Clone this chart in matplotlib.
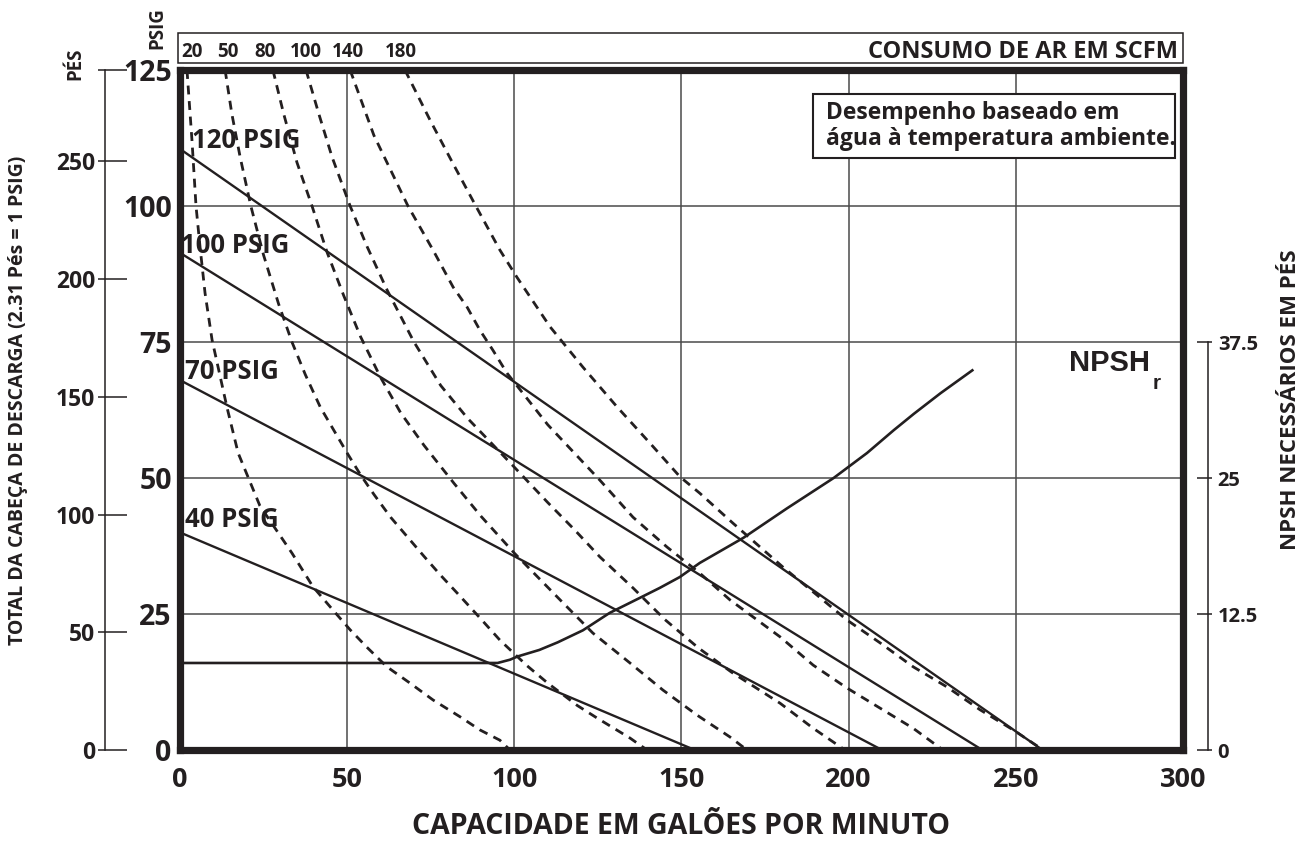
import matplotlib.pyplot as plt
from matplotlib.patches import Rectangle
from matplotlib.ticker import FixedLocator
import matplotlib.transforms as mtransforms

plt.rcParams['font.family'] = ['Open Sans', 'DejaVu Sans']
plt.rcParams['font.weight'] = 'bold'
INK = '#231f20'
FEET_PER_PSI = 2.31

# axes ticks
flow_ticks = [0, 50, 100, 150, 200, 250, 300]
psi_ticks = [0, 25, 50, 75, 100, 125]
feet_ticks = [0, 50, 100, 150, 200, 250]
npsh_ticks = [0, 12.5, 25, 37.5]
npsh_labels = ['0', '12.5', '25', '37.5']

# air inlet pressure lines: head at zero flow (psi) and flow at zero head (gpm)
psig_labels = ['120 PSIG', '100 PSIG', '70 PSIG', '40 PSIG']
psig_head = [110.5, 91.4, 68.0, 40.0]
psig_flow = [258, 240, 210, 154]

# air consumption curves (SCFM), flow gpm vs head psi
scfm_labels = ['20', '50', '80', '100', '140', '180']
scfm20_x = [2.1, 3.6, 4.8, 6.0, 7.5, 9.6, 14.1, 17.4, 23.9, 33.5, 39.8, 45.8, 50.9,
            55.9, 61.9, 68.8, 75.7, 83.8, 89.7, 95.7, 98.7]
scfm20_y = [125, 112, 100, 92.5, 84, 75.4, 62.9, 54.6, 44.9, 36.2, 30.0, 25.7, 22.1,
            18.9, 15.3, 12.3, 9.2, 6.1, 3.7, 1.8, 0]
scfm50_x = [13.5, 15.5, 18, 21.2, 25, 29.5, 33.5, 37.5, 42, 46, 50, 54, 58, 63, 68, 73,
            78, 83, 89.7, 95.7, 103.8, 110, 118.8, 124.7, 134.6, 139.7]
scfm50_y = [125, 117, 109, 100, 91, 82, 75, 69, 63, 58.8, 54.6, 50.6, 47, 42.8, 39.2,
            35.6, 32.1, 28.8, 24.3, 20.2, 15.5, 12.3, 8.2, 5.9, 2.2, 0]
scfm80_x = [27.8, 31, 35, 39.5, 44, 49, 54, 60, 66, 73, 82, 90, 100, 113.7, 123.5,
            134.6, 144.5, 154.7, 164.5, 169.6]
scfm80_y = [125, 117, 108, 100, 91.5, 83.5, 76, 68.5, 62, 56, 49, 43, 36.2, 27.6, 21.5,
            16.0, 11.0, 6.4, 2.4, 0]
scfm100_x = [37.7, 41.5, 45.5, 50.9, 56, 62, 70, 78, 86, 93, 100, 110, 118, 125.6,
             135.5, 145, 155, 165, 179.5, 189.4, 198.9]
scfm100_y = [125, 117, 109, 100, 92.5, 84.5, 75, 67, 61, 56.5, 52, 45.5, 40.5, 35.5,
             29.8, 24, 18.8, 14.3, 8.6, 4.0, 0]
scfm140_x = [50.9, 58, 68.2, 75.7, 81.7, 85.9, 89.7, 93.6, 97.8, 110, 125.6, 135.5,
             145.7, 155.5, 164.5, 179.5, 189.4, 199.5, 209.4, 219.3, 228.2]
scfm140_y = [125, 113, 100, 91.9, 85.1, 81.4, 77.2, 73.5, 69.3, 59.8, 49.6, 42.8,
             37.3, 32.5, 27.6, 20.8, 15.6, 11.4, 7.7, 4.0, 0]
scfm180_x = [67.3, 74.8, 81.5, 88.5, 95.7, 100.8, 110.7, 120.5, 130.7, 140.6, 149.6,
             155.5, 165.4, 180.4, 190.5, 199.5, 209.4, 219.3, 229.4, 239.3, 249.2, 258.2]
scfm180_y = [125, 115.8, 108, 100, 91.9, 86.9, 77.8, 70.4, 63.1, 56.4, 50.2, 47.2,
             41.7, 33.6, 28.5, 23.9, 19.7, 15.3, 11.6, 7.4, 3.7, 0]
scfm_x = [scfm20_x, scfm50_x, scfm80_x, scfm100_x, scfm140_x, scfm180_x]
scfm_y = [scfm20_y, scfm50_y, scfm80_y, scfm100_y, scfm140_y, scfm180_y]

# NPSH required (feet) vs flow (gpm)
npsh_x = [0, 95, 98.7, 101, 107.5, 113, 120.5, 128.5, 137, 143.5, 149.5, 155.5, 168.5,
          181.5, 195.5, 205.5, 213.5, 219.5, 227.5, 237]
npsh_y = [8, 8, 8.3, 8.6, 9.2, 9.9, 11.0, 12.6, 13.9, 14.9, 15.9, 17.2, 19.5, 22.2,
          25.0, 27.3, 29.4, 30.9, 32.8, 34.9]

# layout
psig_label_pos = [(3.6, 112.1), (0.3, 92.8), (1.5, 69.5), (1.5, 42.3)]
scfm_label_x = [3.6, 14.4, 25.4, 37.7, 50.3, 66.1]

fig = plt.figure(figsize=(13.06, 8.43), dpi=100)
ax = fig.add_axes([0.1378, 0.1103, 0.7680, 0.8066])
ax.set_xlim(0, 300)
ax.set_ylim(0, 125)
ax.set_xticks(flow_ticks)
ax.set_yticks(psi_ticks)
ax.grid(True, color='#4a4a4a', lw=1.1)
ax.tick_params(length=0, colors=INK)
ax.tick_params(axis='x', labelsize=19.5, pad=12)
ax.tick_params(axis='y', labelsize=20.5, pad=6)
for s in ax.spines.values():
    s.set_linewidth(5.2)
    s.set_color(INK)
    s.set_capstyle('projecting')

for head, flow in zip(psig_head, psig_flow):
    ax.plot([0, flow], [head, 0], color=INK, lw=1.7)
for lab, (lx, ly) in zip(psig_labels, psig_label_pos):
    ax.text(lx, ly, lab, fontsize=18.5, color=INK, ha='left', va='center')

for cx, cy in zip(scfm_x, scfm_y):
    ax.plot(cx, cy, color=INK, lw=2.0, ls=(0, (3.2, 2.4)))

# top SCFM strip
ax.add_patch(Rectangle((-0.002, 1.0103), 1.002, 0.0441, transform=ax.transAxes,
                       fill=False, ec=INK, lw=1.1, clip_on=False))
strip = mtransforms.blended_transform_factory(ax.transData, ax.transAxes)
for lab, lx in zip(scfm_labels, scfm_label_x):
    ax.text(lx, 1.026, lab, transform=strip, fontsize=13.5, color=INK,
            ha='center', va='center')
ax.text(0.995, 1.027, 'CONSUMO DE AR EM SCFM', transform=ax.transAxes, fontsize=17,
        color=INK, ha='right', va='center')

# note box
ax.add_patch(Rectangle((189.4, 108.8), 108.3, 11.8, fc='white', ec=INK, lw=1.5, zorder=4))
ax.text(193.2, 114.7, 'Desempenho baseado em\nágua à temperatura ambiente.',
        fontsize=16.5, color=INK, ha='left', va='center', linespacing=1.15, zorder=5)

# NPSH axis
axn = ax.twinx()
axn.set_ylim(0, 62.5)
axn.plot(npsh_x, npsh_y, color=INK, lw=1.9)
axn.set_yticks(npsh_ticks)
axn.set_yticklabels(npsh_labels)
for k in ['top', 'bottom', 'left']:
    axn.spines[k].set_visible(False)
axn.spines['right'].set_position(('outward', 18))
axn.spines['right'].set_bounds(0, 37.5)
axn.spines['right'].set_linewidth(1.1)
axn.spines['right'].set_color(INK)
axn.yaxis.set_minor_locator(FixedLocator(npsh_ticks))
axn.yaxis.remove_overlapping_locs = False
axn.tick_params(axis='y', which='major', direction='in', length=8, width=1.1, pad=7,
                labelsize=14.5, colors=INK)
axn.tick_params(axis='y', which='minor', direction='out', length=3, width=1.1, colors=INK)
t = axn.text(266, 35.6, 'NPSH', family=['Liberation Sans Narrow', 'Liberation Sans'],
             fontsize=21, color=INK, ha='left', va='center')
axn.annotate('r', xy=(1, 0), xycoords=t, xytext=(1.5, 2), textcoords='offset points',
             family=['Liberation Sans Narrow', 'Liberation Sans'], fontsize=15,
             color=INK, ha='left', va='top')

# feet axis
axf = ax.twinx()
axf.set_ylim(0, 125 * FEET_PER_PSI)
axf.yaxis.tick_left()
axf.set_yticks(feet_ticks + [125 * FEET_PER_PSI])
axf.set_yticklabels([str(v) for v in feet_ticks] + [''])
for k in ['top', 'bottom', 'right']:
    axf.spines[k].set_visible(False)
axf.spines['left'].set_visible(True)
axf.spines['left'].set_position(('outward', 54))
axf.spines['left'].set_linewidth(1.1)
axf.spines['left'].set_color(INK)
axf.yaxis.set_minor_locator(FixedLocator(feet_ticks + [125 * FEET_PER_PSI]))
axf.yaxis.remove_overlapping_locs = False
axf.tick_params(axis='y', which='major', direction='in', length=16, width=1.1, pad=7,
                labelsize=16.5, colors=INK)
axf.tick_params(axis='y', which='minor', direction='out', length=5, width=1.1, colors=INK)

fig.text(681 / 1306, 1 - 827 / 843, 'CAPACIDADE EM GALÕES POR MINUTO', fontsize=20.5,
         color=INK, ha='center', va='center')
fig.text(18 / 1306, 1 - 400 / 843, 'TOTAL DA CABEÇA DE DESCARGA (2.31 Pés = 1 PSIG)',
         fontsize=14, color=INK, rotation=90, ha='center', va='center')
fig.text(1291 / 1306, 1 - 400 / 843, 'NPSH NECESSÁRIOS EM PÉS', fontsize=16,
         color=INK, rotation=90, ha='center', va='center')
fig.text(157 / 1306, 1 - 28 / 843, 'PSIG', fontsize=13.5, color=INK, rotation=90,
         ha='center', va='center')
fig.text(75 / 1306, 1 - 64 / 843, 'PÉS', fontsize=13.5, color=INK, rotation=90,
         ha='center', va='center')

fig.savefig('out.png', dpi=100)
